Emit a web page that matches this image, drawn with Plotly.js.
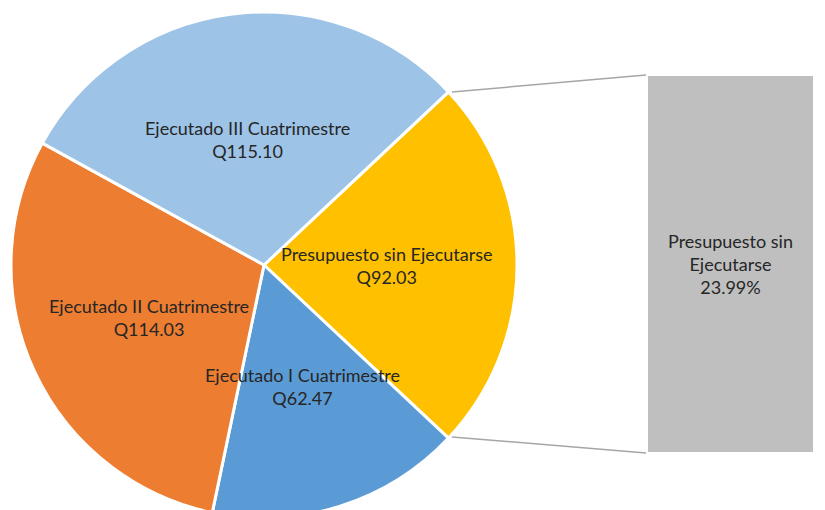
<!DOCTYPE html>
<html><head><meta charset="utf-8">
<script src="https://cdn.plot.ly/plotly-3.0.1.min.js"></script>
<style>html,body{margin:0;padding:0;overflow:hidden;background:#fff}</style>
</head><body><div id="chart" style="width:825px;height:520px"></div>
<script>
const labels = ["Presupuesto sin Ejecutarse", "Ejecutado I Cuatrimestre", "Ejecutado II Cuatrimestre", "Ejecutado III Cuatrimestre"];
const values = [92.03, 62.47, 114.03, 115.10];
const colors = ["#FFC000", "#5B9BD5", "#ED7D31", "#9DC3E6"];
const barLabel = "Presupuesto sin<br>Ejecutarse";

const W = 825, H = 520;
const total = values.reduce((a, b) => a + b, 0);
const share = values[0] / total;
const pct = (share * 100).toFixed(2) + "%";

// label centres in pixels (layout)
const labelPos = [[387, 265], [302, 386], [149, 317], [247, 140]];
const px = x => x / W, py = y => 1 - y / H;
const cx = 264, cy = 265, R = 253;
const FONT = {family: "Lato, 'Open Sans', sans-serif", size: 18, color: "#262626"};

const annotations = labels.map((l, i) => ({
  xref: "paper", yref: "paper", x: px(labelPos[i][0]), y: py(labelPos[i][1]),
  xanchor: "center", yanchor: "middle", showarrow: false,
  text: l + "<br>Q" + values[i].toFixed(2),
  font: FONT
}));

const pie = {
  type: "pie", labels: labels, values: values, sort: false, direction: "clockwise",
  rotation: 90 - 180 * share,
  marker: {colors: colors, line: {color: "#FFFFFF", width: 3}},
  textinfo: "none", hoverinfo: "label+value", showlegend: false,
  domain: {x: [px(cx - R), px(cx + R)], y: [py(cy + R), py(cy - R)]}
};

const bar = {
  type: "bar", x: [labels[0]], y: [share * 100], marker: {color: "#BFBFBF"},
  text: [barLabel + "<br>" + pct], textposition: "inside", insidetextanchor: "middle",
  textfont: FONT, constraintext: "none",
  xaxis: "x", yaxis: "y", showlegend: false, hoverinfo: "none"
};

const barTop = 76, barBot = 452, barL = 648, barR = 813;
const layout = {
  width: W, height: H, margin: {l: 0, r: 0, t: 0, b: 0},
  paper_bgcolor: "#fff", plot_bgcolor: "rgba(0,0,0,0)",
  showlegend: false, bargap: 0,
  xaxis: {domain: [px(barL), px(barR)], visible: false, fixedrange: true},
  yaxis: {domain: [py(barBot), py(barTop)], range: [0, share * 100], visible: false, fixedrange: true},
  annotations: annotations,
  shapes: [
    {type: "line", xref: "paper", yref: "paper", x0: px(452), y0: py(92), x1: px(646), y1: py(75), line: {color: "#A6A6A6", width: 1.5}},
    {type: "line", xref: "paper", yref: "paper", x0: px(452), y0: py(437), x1: px(646), y1: py(453), line: {color: "#A6A6A6", width: 1.5}}
  ]
};
Plotly.newPlot("chart", [pie, bar], layout, {displayModeBar: false, staticPlot: true});
</script></body></html>
